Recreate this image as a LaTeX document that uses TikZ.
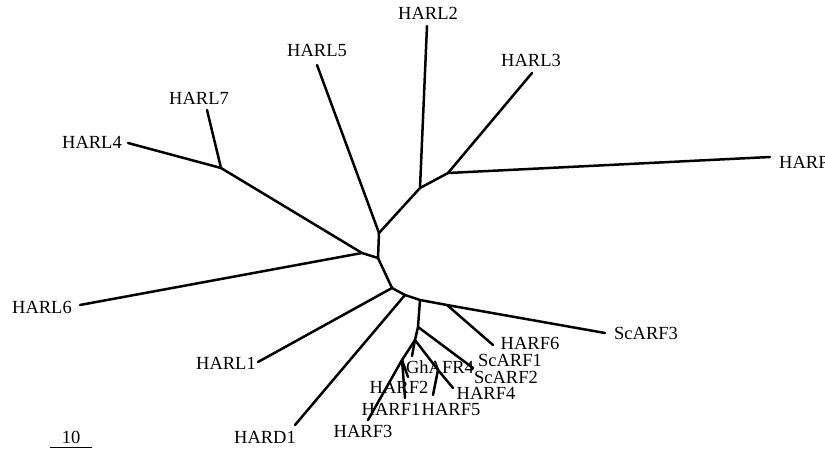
\documentclass[tikz,border=0pt]{standalone}
\usepackage{fontspec}
\setmainfont{Liberation Serif}
\begin{document}
\begin{tikzpicture}[x=1pt,y=-1pt,
  branch/.style={line width=2.5pt,line cap=round,line join=round},
  lbl/.style={font=\fontsize{18.5}{20}\selectfont,inner sep=0pt}]
\useasboundingbox (0,0) rectangle (825,449);
% internal nodes
\coordinate (A) at (379,233);
\coordinate (B) at (420,188);
\coordinate (C) at (448,173);
\coordinate (D) at (378,258);
\coordinate (E) at (362,253);
\coordinate (Q) at (221,168);
\coordinate (F) at (392,288);
\coordinate (G) at (405,295);
\coordinate (H) at (420,300);
\coordinate (J) at (447,305);
\coordinate (I) at (418,327);
\coordinate (K) at (415,340);
\coordinate (L) at (438,370);
\coordinate (M) at (402,360);
% leaf ends
\coordinate (l2) at (427,26);
\coordinate (l3) at (532,73);
\coordinate (lP) at (770,157);
\coordinate (l5) at (317,65);
\coordinate (l7) at (207,110);
\coordinate (l4) at (128,143);
\coordinate (l6) at (80,305);
\coordinate (l1) at (258,362);
\coordinate (d1) at (295,425);
\coordinate (s3) at (605,333);
\coordinate (f6) at (493,345);
\coordinate (s12) at (473,368);
\coordinate (f4) at (453,388);
\coordinate (f5) at (433,395);
\coordinate (g4) at (412,356);
\coordinate (f3) at (368,420);
\coordinate (f1) at (405,398);
\coordinate (f2) at (408,377);
% branches
\draw[branch] (A) -- (B) -- (l2);
\draw[branch] (B) -- (C) -- (l3);
\draw[branch] (C) -- (lP);
\draw[branch] (A) -- (l5);
\draw[branch] (A) -- (D) -- (E) -- (Q) -- (l7);
\draw[branch] (Q) -- (l4);
\draw[branch] (E) -- (l6);
\draw[branch] (D) -- (F) -- (l1);
\draw[branch] (F) -- (G) -- (d1);
\draw[branch] (G) -- (H) -- (J) -- (s3);
\draw[branch] (J) -- (f6);
\draw[branch] (H) -- (I) -- (s12);
\draw[branch] (I) -- (K) -- (L) -- (f4);
\draw[branch] (L) -- (f5);
\draw[branch] (K) -- (g4);
\draw[branch] (K) -- (M) -- (f3);
\draw[branch] (M) -- (f1);
\draw[branch] (M) -- (f2);
% labels
\node[lbl] (tL2) at (428,13) {HARL2};
\node[lbl] (tL3) at (531,60) {HARL3};
\node[lbl] (tL5) at (317,50) {HARL5};
\node[lbl] (tL7) at (199,98) {HARL7};
\node[lbl] (tL4) at (92,142) {HARL4};
\node[lbl] (tL6) at (42,307) {HARL6};
\node[lbl,anchor=west] (tP) at (779,162) {HARP};
\node[lbl,anchor=west] (tS3) at (614,333) {ScARF3};
\node[lbl] (tF6) at (530,343) {HARF6};
\node[lbl] (tS1) at (510,360) {ScARF1};
\node[lbl] (tS2) at (506,377) {ScARF2};
\node[lbl] (tF4) at (486,393) {HARF4};
\node[lbl] (tF5) at (451,409) {HARF5};
\node[lbl] (tF1) at (391,409) {HARF1};
\node[lbl] (tF2) at (399,387) {HARF2};
\node[lbl] (tG4) at (440,367) {GhAFR4};
\node[lbl] (tF3) at (363,431) {HARF3};
\node[lbl] (tD1) at (265,437) {HARD1};
\node[lbl] (tL1) at (226,363) {HARL1};
% scale bar
\coordinate (sb1) at (50,447);
\coordinate (sb2) at (92,447);
\draw[line width=1pt] (sb1) -- (sb2);
\node[lbl] (tsb) at (71,437) {10};
\end{tikzpicture}
\end{document}
